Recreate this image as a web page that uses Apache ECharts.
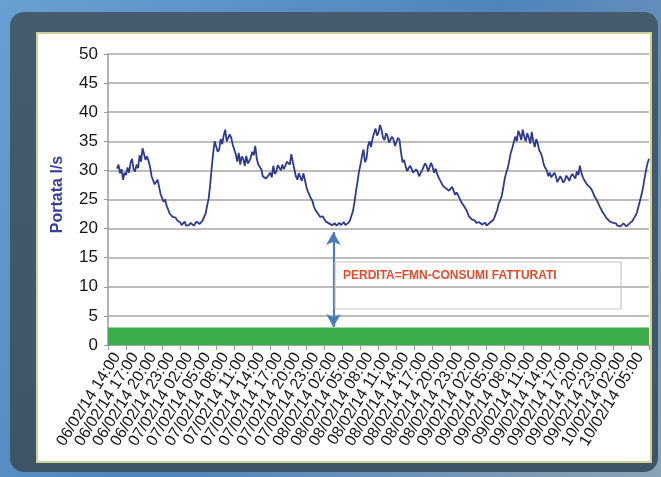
<!DOCTYPE html>
<html>
<head>
<meta charset="utf-8">
<title>Portata</title>
<script src="https://cdn.jsdelivr.net/npm/echarts@6/dist/echarts.min.js"></script>
<style>
  html, body { margin: 0; padding: 0; }
  #chart { width: 661px; height: 477px; }
</style>
</head>
<body>
<div id="chart"></div>
<script>
// Flow readings every 15 minutes, from 06/02/14 12:30 to 10/02/14 06:30 (l/s).
// One row per 3-hour block.
const flowValues = [
  null, null, null, null, null, null, 30.3, 31.0, 29.5, 30.2, 28.4, 29.6,
  29.2, 30.5, 29.6, 31.3, 32.0, 30.2, 29.8, 31.0, 30.4, 32.6, 31.5, 33.8,
  33.6, 31.8, 32.4, 31.6, 30.6, 29.0, 28.8, 27.6, 28.0, 28.4, 27.2, 25.9,
  26.0, 24.6, 25.0, 23.9, 23.3, 22.6, 22.4, 22.0, 21.8, 21.9, 21.4, 21.6,
  21.1, 20.6, 20.8, 21.2, 20.5, 20.2, 20.6, 21.0, 20.9, 20.5, 20.7, 21.2,
  21.3, 20.8, 20.9, 21.4, 21.7, 22.6, 24.0, 25.2, 27.5, 30.4, 33.0, 35.0,
  34.8, 33.2, 33.6, 35.4, 34.5, 36.0, 37.0, 35.0, 35.2, 36.2, 35.6, 34.4,
  34.6, 32.8, 31.5, 33.0, 31.0, 32.4, 32.0, 30.8, 32.5, 31.2, 31.6, 32.2,
  33.2, 32.6, 34.2, 32.0, 31.0, 30.6, 30.2, 29.0, 29.0, 28.6, 28.3, 29.2,
  29.6, 28.8, 30.8, 29.4, 29.8, 30.9, 30.7, 30.0, 31.0, 30.2, 30.8, 31.5,
  31.6, 31.0, 32.8, 31.4, 30.2, 29.0, 28.4, 29.5, 28.8, 28.2, 29.5, 28.4,
  27.2, 26.4, 25.8, 25.2, 24.8, 23.8, 23.2, 22.9, 22.5, 22.0, 21.8, 22.1,
  21.6, 21.2, 21.3, 20.9, 21.0, 20.6, 20.7, 20.9, 20.5, 20.8, 21.0, 20.6,
  20.7, 21.1, 20.6, 20.9, 21.0, 21.4, 22.2, 23.0, 24.5, 26.4, 28.0, 29.8,
  31.0, 32.4, 33.6, 31.4, 32.0, 34.2, 35.0, 34.0, 35.4, 36.4, 37.2, 36.0,
  36.5, 37.8, 37.0, 35.6, 35.2, 36.4, 35.9, 34.8, 34.6, 35.8, 35.3, 34.2,
  34.4, 35.6, 35.2, 33.0, 31.4, 31.8, 30.8, 29.9, 30.0, 30.8, 30.3, 29.6,
  29.4, 30.2, 29.8, 29.0, 29.3, 30.0, 30.3, 31.2, 30.8, 29.8, 30.1, 31.3,
  30.6, 29.6, 30.3, 29.4, 28.8, 28.3, 28.0, 27.3, 27.5, 26.9, 27.1, 26.5,
  26.6, 27.2, 26.9, 25.8, 26.2, 25.7, 25.4, 24.6, 24.3, 23.8, 23.4, 22.9,
  22.2, 21.9, 21.6, 21.5, 21.4, 21.0, 21.3, 21.1, 21.0, 20.7, 20.8, 21.0,
  20.5, 20.3, 21.0, 20.8, 21.4, 21.8, 22.5, 23.2, 24.3, 24.9, 25.6, 27.0,
  28.6, 29.6, 30.4, 31.6, 33.0, 33.8, 34.0, 35.8, 35.0, 36.8, 36.2, 35.2,
  37.0, 35.8, 35.0, 36.4, 35.6, 34.6, 36.6, 35.0, 34.0, 35.4, 34.6, 33.4,
  33.0, 32.2, 31.0, 30.4, 30.0, 29.0, 29.6, 28.8, 28.6, 29.6, 29.0, 28.0,
  28.2, 29.0, 28.8, 27.9, 28.3, 29.1, 28.7, 28.2, 29.0, 29.4, 29.2, 28.6,
  29.8, 29.2, 30.8, 29.6, 28.8, 28.3, 28.2, 27.5, 27.2, 27.0, 26.6, 26.0,
  25.4, 25.0, 24.5, 23.9, 23.4, 22.9, 22.6, 22.1, 21.7, 21.5, 21.2, 21.3,
  21.0, 20.7, 20.9, 20.5, 20.6, 20.4, 20.5, 20.9, 20.8, 20.4, 20.6, 20.9,
  21.0, 21.3, 21.8, 22.2, 22.8, 23.8, 24.8, 25.8, 27.0, 28.6, 30.0, 31.2,
  32.0
];

// Billed consumption band (l/s)
const billedConsumption = [0, 3];

// Loss arrow: from billed consumption up to the night minimum
const lossArrow = { at: '08/02/14 02:00', from: 3.1, to: 19.4 };
const lossLabel = 'PERDITA=FMN-CONSUMI FATTURATI';

// Y axis scale
const yTicks = { min: 0, max: 50, interval: 5 };

// Time stamps, quarter-hour steps; labels every 3 hours from 14:00, ticks between them
const startDay = 6, startHour = 12, startMinute = 30, stepMinutes = 15;
const stepsPerBlock = 12;
const pad = n => (n < 10 ? '0' : '') + n;
const categories = flowValues.map((_, i) => {
  const total = startHour * 60 + startMinute + i * stepMinutes;
  const day = startDay + Math.floor(total / 1440);
  const rem = total % 1440;
  return pad(day) + '/02/14 ' + pad(Math.floor(rem / 60)) + ':' + pad(rem % 60);
});

const chart = echarts.init(document.getElementById('chart'));

chart.setOption({
  backgroundColor: new echarts.graphic.LinearGradient(0, 0, 1, 1, [
    { offset: 0, color: '#6a9fd3' },
    { offset: 0.5, color: '#4f84bd' },
    { offset: 1, color: '#8aa2b4' }
  ]),
  animation: false,
  graphic: [
    {
      type: 'rect', z: -10, silent: true,
      shape: { x: 10, y: 12, width: 648, height: 460, r: 14 },
      style: {
        fill: new echarts.graphic.LinearGradient(0, 0, 0, 1, [
          { offset: 0, color: '#475b6e' },
          { offset: 1, color: '#3f5466' }
        ])
      }
    },
    {
      type: 'rect', z: -9, silent: true,
      shape: { x: 37, y: 33, width: 614, height: 429 },
      style: { fill: '#ffffff', stroke: '#cfcf96', lineWidth: 2 }
    },
    {
      type: 'rect', z: 10, silent: true,
      shape: { x: 335, y: 262, width: 286, height: 47 },
      style: { fill: 'none', stroke: '#c4c4c4', lineWidth: 1.2 }
    },
    {
      type: 'text', z: 11, silent: true,
      x: 343, y: 276,
      style: {
        text: lossLabel,
        fill: '#e84a2c',
        font: 'bold 12px "Liberation Sans", Arial, sans-serif',
        verticalAlign: 'middle',
        align: 'left'
      }
    }
  ],
  grid: { left: 108, right: 12, top: 54, bottom: 132, containLabel: false },
  xAxis: {
    type: 'category',
    data: categories,
    boundaryGap: false,
    axisLine: { show: true, lineStyle: { color: '#9a9a9a', width: 1.5 } },
    axisTick: {
      show: true, length: 5,
      interval: idx => idx % stepsPerBlock === 0,
      lineStyle: { color: '#9a9a9a', width: 1.2 }
    },
    axisLabel: {
      interval: 0,
      formatter: (value, idx) => (idx % stepsPerBlock === stepsPerBlock / 2 ? value : ''),
      rotate: 58,
      margin: 9,
      color: '#161616',
      fontSize: 16,
      fontFamily: '"Liberation Sans", Arial, sans-serif'
    },
    splitLine: { show: false }
  },
  yAxis: {
    type: 'value',
    min: yTicks.min, max: yTicks.max, interval: yTicks.interval,
    name: 'Portata l/s',
    nameLocation: 'middle',
    nameGap: 42,
    nameTextStyle: {
      color: '#3b3f9c', fontSize: 16, fontWeight: 'bold',
      fontFamily: '"Liberation Sans", Arial, sans-serif',
      padding: [0, 0, 0, 10]
    },
    axisLine: { show: true, lineStyle: { color: '#9a9a9a', width: 1.5 } },
    axisTick: { show: true, length: 4, lineStyle: { color: '#9a9a9a' } },
    axisLabel: {
      margin: 10, color: '#161616', fontSize: 17,
      fontFamily: '"Liberation Sans", Arial, sans-serif'
    },
    splitLine: { show: true, lineStyle: { color: '#a8a4a4', width: 1.5 } }
  },
  series: [
    {
      type: 'line',
      data: flowValues.map(v => (v === null ? '-' : v)),
      showSymbol: false,
      connectNulls: false,
      lineStyle: { color: '#2e3a8e', width: 1.8 },
      itemStyle: { color: '#2e3a8e' },
      z: 5,
      markArea: {
        silent: true,
        itemStyle: { color: '#3dad4c', opacity: 1 },
        data: [[{ yAxis: billedConsumption[0] }, { yAxis: billedConsumption[1] }]]
      },
      markLine: {
        silent: true,
        symbol: ['arrow', 'arrow'],
        symbolSize: [11, 13],
        label: { show: false },
        lineStyle: { color: '#4a7bb7', width: 2.2, type: 'solid' },
        emphasis: { disabled: true },
        data: [[
          { coord: [lossArrow.at, lossArrow.from] },
          { coord: [lossArrow.at, lossArrow.to] }
        ]]
      }
    }
  ]
});
</script>
</body>
</html>
